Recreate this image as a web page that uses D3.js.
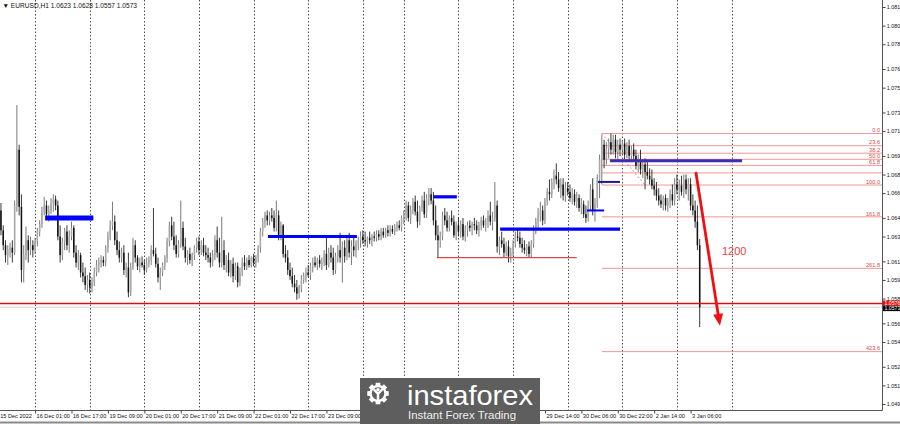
<!DOCTYPE html>
<html><head><meta charset="utf-8">
<script src="https://cdn.jsdelivr.net/npm/d3@7"></script>
<style>
body{margin:0;background:#fff;overflow:hidden}
svg{display:block}
text{font-family:"Liberation Sans",Arial,sans-serif}
</style></head>
<body><svg id="c" width="900" height="424"></svg>
<script>
// ---------------- DATA ----------------
const symbol = "EURUSD,H1";
const headerOHLC = [1.0623, 1.0628, 1.0557, 1.0573];
// H1 candles [open, high, low, close], in pips above 1.0000 (623 = 1.0623)
const candles = [
[651,657,631,635],[635,639,619,623],[623,627,609,615],[615,623,607,619],[619,625,613,621],
[621,627,609,617],[617,659,615,655],[655,736,650,700],[700,704,647,654],[654,664,593,603],
[603,623,593,615],[615,638,611,627],[627,631,609,619],[619,630,615,623],[623,627,613,619],
[619,629,616,626],[626,637,622,634],[634,643,630,640],[640,654,637,650],[650,662,647,655],
[655,659,645,648],[648,655,642,651],[651,661,648,657],[657,664,650,660],[660,663,651,655],
[655,659,627,630],[630,639,609,615],[615,629,611,626],[626,637,619,634],[634,639,619,623],
[623,635,617,630],[630,642,627,637],[637,639,613,617],[617,623,605,609],[609,619,603,615],
[615,617,597,601],[601,609,593,598],[598,605,587,591],[591,599,585,595],[595,601,584,589],
[589,597,585,593],[593,605,590,601],[601,611,598,607],[607,613,601,609],[609,615,605,611],
[611,614,606,609],[609,623,606,621],[621,634,617,630],[630,643,627,639],[639,658,635,642],
[642,647,623,627],[627,634,615,619],[619,626,609,613],[613,621,609,617],[617,623,599,603],
[603,609,597,605],[605,617,581,585],[585,609,582,606],[606,629,603,623],[623,627,609,613],
[613,615,603,606],[606,613,601,609],[609,614,605,607],[607,611,599,603],[603,613,601,609],
[609,614,605,611],[611,623,607,619],[619,653,614,616],[616,621,605,608],[608,613,593,597],
[597,605,587,601],[601,609,598,607],[607,615,603,613],[613,629,609,626],[626,642,622,639],
[639,646,627,630],[630,642,619,623],[623,631,613,616],[616,627,613,624],[624,659,621,637],
[637,642,619,622],[622,629,609,613],[613,619,607,616],[616,621,608,611],[611,617,606,615],
[615,623,611,621],[621,629,617,626],[626,630,615,619],[619,627,615,623],[623,629,614,617],
[617,623,611,615],[615,621,609,613],[613,617,605,609],[609,619,606,615],[615,631,611,627],
[627,638,613,617],[617,629,605,609],[609,646,605,619],[619,627,603,607],[607,615,601,611],
[611,617,598,601],[601,611,597,608],[608,613,593,598],[598,609,595,606],[606,609,589,593],
[593,605,590,601],[601,613,598,609],[609,615,603,606],[606,613,603,611],[611,615,605,607],
[607,614,605,613],[613,616,606,609],[609,615,605,613],[613,623,609,621],[621,637,617,634],
[634,645,630,642],[642,650,637,647],[647,651,639,643],[643,650,639,647],[647,653,642,645],
[645,651,634,637],[637,659,634,647],[647,651,627,630],[630,642,627,639],[639,640,613,616],
[616,623,609,613],[613,619,599,603],[603,609,595,598],[598,605,589,592],[592,599,585,589],
[589,595,579,584],[584,591,580,589],[589,599,585,595],[595,601,592,598],[598,605,593,601],
[601,607,597,599],[599,609,595,606],[606,613,601,609],[609,614,605,607],[607,613,603,611],
[611,615,605,608],[608,613,603,609],[609,619,606,616],[616,630,603,607],[607,621,605,617],
[617,623,609,613],[613,621,599,603],[603,617,600,614],[614,623,609,619],[619,633,609,613],
[613,626,593,621],[621,627,609,614],[614,631,611,627],[627,633,613,617],[617,627,607,622],
[622,629,614,619],[619,627,613,624],[624,630,619,627],[627,634,621,630],[630,635,624,627],
[627,634,622,626],[626,630,621,629],[629,634,624,627],[627,632,622,630],[630,634,626,629],
[629,635,626,632],[632,635,627,630],[630,637,627,634],[634,637,629,631],[631,637,629,635],
[635,639,630,633],[633,639,630,636],[636,639,632,634],[634,640,631,638],[638,642,634,639],
[639,643,635,637],[637,647,634,645],[645,651,640,648],[648,659,643,655],[655,658,642,645],
[645,655,640,651],[651,661,648,658],[658,663,647,650],[650,659,637,642],[642,655,639,653],
[653,663,650,659],[659,666,645,648],[648,664,645,661],[661,669,655,664],[664,669,656,659],
[659,666,639,643],[643,655,627,631],[631,639,613,627],[627,634,621,630],[630,650,627,647],
[647,653,639,643],[643,650,634,637],[637,647,634,645],[645,651,639,642],[642,647,629,631],
[631,642,627,639],[639,645,630,634],[634,643,629,640],[640,645,627,630],[630,639,626,635],
[635,642,630,639],[639,643,634,637],[637,642,631,640],[640,645,635,639],[639,643,632,635],
[635,642,630,639],[639,646,635,643],[643,647,637,639],[639,645,634,642],[642,651,637,647],
[647,658,639,642],[642,650,635,645],[645,674,642,655],[655,659,617,622],[622,630,615,627],
[627,634,621,624],[624,629,613,617],[617,626,614,622],[622,627,609,614],[614,621,609,617],
[617,627,614,624],[624,634,621,630],[630,636,626,629],[629,634,621,624],[624,629,617,621],
[621,627,616,619],[619,624,614,622],[622,626,613,616],[616,627,613,624],[624,639,621,635],
[635,645,632,642],[642,653,637,647],[647,658,642,651],[651,655,639,643],[643,661,640,658],
[658,669,655,666],[666,676,659,664],[664,677,661,674],[674,684,668,679],[679,689,672,676],
[676,682,666,669],[669,677,661,672],[672,677,659,663],[663,674,658,669],[669,674,663,666],
[666,672,658,661],[661,669,656,664],[664,668,655,658],[658,666,653,661],[661,664,650,653],
[653,661,648,656],[656,659,645,648],[648,655,641,645],[645,659,642,655],[655,672,651,668],
[668,677,647,651],[651,661,642,656],[656,680,653,676],[676,696,661,692],[692,712,672,704],
[704,708,685,692],[692,706,688,701],[701,709,693,706],[706,713,696,700],[700,712,696,708],
[708,712,693,698],[698,708,692,704],[704,709,695,700],[700,708,696,705],[705,709,692,696],
[696,706,693,703],[703,708,692,695],[695,703,690,700],[700,705,692,695],[695,700,684,687],
[687,696,682,692],[692,700,680,684],[684,692,677,688],[688,693,668,682],[682,690,676,679],
[679,685,672,676],[676,684,668,671],[671,677,663,668],[668,674,659,663],[663,669,655,659],
[659,664,653,656],[656,663,651,661],[661,664,651,655],[655,661,650,658],[658,668,653,664],
[664,672,655,659],[659,677,655,672],[672,680,664,668],[668,676,659,671],[671,679,663,666],
[666,680,661,676],[676,680,664,668],[668,677,659,672],[672,677,651,655],[655,664,647,651],
[651,659,637,642],[642,655,619,623],[623,628,557,573]
];
const priceTicks = [1.0815,1.0800,1.0785,1.0765,1.0750,1.0730,1.0715,1.0695,1.0680,1.0665,
                    1.0645,1.0630,1.0610,1.0595,1.0580,1.0560,1.0545,1.0525,1.0510,1.0495];
const timeTickBars   = [-1,15,31,47,63,79,95,111,127,143,239,255,271,287,303];
const timeTickLabels = ["15 Dec 2022","16 Dec 01:00","16 Dec 17:00","19 Dec 09:00","20 Dec 01:00",
  "20 Dec 17:00","21 Dec 09:00","22 Dec 01:00","22 Dec 17:00","23 Dec 09:00",
  "29 Dec 14:00","30 Dec 06:00","30 Dec 22:00","2 Jan 14:00","3 Jan 06:00"];
const dayGridBars = [15,39,63,87,111,135,159,177,201,225,249,273,297,321];
// Fibonacci object
const fibLevels = [0,23.6,38.2,50,61.8,76.4,100,161.8,261.8,423.6];
const fibLabels = ["0.0","23.6","38.2","50.0","61.8","","100.0","161.8","261.8","423.6"];
const fibAnchorBars = [264,283];
const fibAnchorPrices = [1.0713,1.06715];
// horizontal line objects: start bar, end bar, price, kind
const segBlue = [
  {b0:19.4, b1:40.6, p:1.0645, kind:"heavy"},
  {b0:117.3,b1:156.4,p:1.0630, kind:"mid"},
  {b0:190,  b1:200.3,p:1.0662, kind:"mid"},
  {b0:219.3,b1:272,  p:1.0636, kind:"mid"},
  {b0:257.4,b1:265,  p:1.0651, kind:"thin"},
  {b0:267.6,b1:325.6,p:1.0691, kind:"navy"},
  {b0:262.3,b1:272,  p:1.0674, kind:"navyThin"}
];
const segRed = [{b0:191.5, b1:253, p:1.0613}];
const redLevelPrice = 1.0576;
const bidPrice = 1.0573;
const arrowBars = [305.4, 315.9];
const arrowPrices = [1.0681, 1.0558];
const targetText = {bar:316.8, p:1.0618, label:"1200"};

// ---------------- CHART ----------------
const svg = d3.select("#c");
const plotR = 882, plotB = 410;
const x = d3.scaleLinear().domain([-0.42, 387.1]).range([0, plotR]);
const y = d3.scaleLinear().domain([1.0815, 1.0495]).range([7, 404]);
const P = v => 1 + v/10000;

svg.append("rect").attr("width",900).attr("height",424).attr("fill","#fff");
svg.append("defs").append("clipPath").attr("id","plot")
   .append("rect").attr("x",0).attr("y",0).attr("width",plotR).attr("height",plotB);
const g = svg.append("g").attr("clip-path","url(#plot)");

// vertical dotted grid
g.selectAll("line.vg").data(dayGridBars).join("line")
  .attr("x1",d=>Math.round(x(d))+0.5).attr("x2",d=>Math.round(x(d))+0.5)
  .attr("y1",0).attr("y2",plotB)
  .attr("stroke","#222").attr("stroke-width",0.8).attr("stroke-dasharray","1.5,2");

// fibonacci levels
const fibP = l => fibAnchorPrices[0] - (fibAnchorPrices[0]-fibAnchorPrices[1])*l/100;
g.selectAll("line.fib").data(fibLevels).join("line")
  .attr("x1",x(fibAnchorBars[0])).attr("x2",plotR)
  .attr("y1",d=>y(fibP(d))).attr("y2",d=>y(fibP(d)))
  .attr("stroke","#ee8a8a").attr("stroke-width",0.9);
g.append("line")
  .attr("x1",x(fibAnchorBars[0])).attr("y1",y(fibAnchorPrices[0]))
  .attr("x2",x(fibAnchorBars[1])).attr("y2",y(fibAnchorPrices[1]))
  .attr("stroke","#e07070").attr("stroke-width",0.8).attr("stroke-dasharray","2,2");
svg.selectAll("text.fib").data(fibLevels).join("text")
  .attr("x",880).attr("y",(d)=>y(fibP(d))-1.2)
  .attr("text-anchor","end").attr("font-size",5.6).attr("fill","#e04848")
  .text((d,i)=>fibLabels[i]);

// bid line (gray)
g.append("line").attr("x1",0).attr("x2",plotR).attr("y1",y(bidPrice)).attr("y2",y(bidPrice))
  .attr("stroke","#c8c8c8").attr("stroke-width",0.8);

// candles
const cw = 1.5;
const cg = g.append("g");
cg.selectAll("line.w").data(candles).join("line")
  .attr("x1",(d,i)=>x(i)).attr("x2",(d,i)=>x(i))
  .attr("y1",d=>y(P(d[1]))).attr("y2",d=>y(P(d[2])))
  .attr("stroke",d=>d[3]>=d[0]?"#6a6a6a":"#222").attr("stroke-width",0.9);
cg.selectAll("rect.b").data(candles).join("rect")
  .attr("x",(d,i)=>x(i)-cw/2).attr("width",cw)
  .attr("y",d=>y(P(Math.max(d[0],d[3]))))
  .attr("height",d=>Math.max(0.8, y(P(Math.min(d[0],d[3])))-y(P(Math.max(d[0],d[3])))))
  .attr("fill",d=>d[3]>=d[0]?"#a8a8a8":"#111");

// red horizontal segment
g.selectAll("line.rs").data(segRed).join("line")
  .attr("x1",d=>x(d.b0)).attr("x2",d=>x(d.b1)).attr("y1",d=>y(d.p)).attr("y2",d=>y(d.p))
  .attr("stroke","#d84a4a").attr("stroke-width",1.3);
// red level across chart
g.append("line").attr("x1",0).attr("x2",plotR).attr("y1",y(redLevelPrice)).attr("y2",y(redLevelPrice))
  .attr("stroke","#d81010").attr("stroke-width",1.3);

// blue segments
const kindStyle = {heavy:["#0000ff",5],mid:["#0000ff",3.2],thin:["#0000ff",2],
                   navy:["#3a2fb4",3],navyThin:["#1c1c96",2]};
g.selectAll("line.bs").data(segBlue).join("line")
  .attr("x1",d=>x(d.b0)).attr("x2",d=>x(d.b1)).attr("y1",d=>y(d.p)).attr("y2",d=>y(d.p))
  .attr("stroke",d=>kindStyle[d.kind][0]).attr("stroke-width",d=>kindStyle[d.kind][1]);

// red arrow
{
  const x0=x(arrowBars[0]), y0=y(arrowPrices[0]), x1=x(arrowBars[1]), y1=y(arrowPrices[1]);
  const dx=x1-x0, dy=y1-y0, L=Math.hypot(dx,dy), ux=dx/L, uy=dy/L;
  const hl=12, hw=5;
  const bx=x1-ux*hl, by=y1-uy*hl;
  g.append("line").attr("x1",x0).attr("y1",y0).attr("x2",bx).attr("y2",by)
    .attr("stroke","#f01010").attr("stroke-width",2.8).attr("stroke-linecap","round");
  g.append("path").attr("d",`M${x1},${y1}L${bx-uy*hw},${by+ux*hw}L${bx+uy*hw},${by-ux*hw}Z`)
    .attr("fill","#f01010");
}
g.append("text").attr("x",x(targetText.bar)).attr("y",y(targetText.p)+4)
  .attr("font-size",11).attr("fill","#e84040").text(targetText.label);

// axes frame
svg.append("line").attr("x1",plotR+0.5).attr("x2",plotR+0.5).attr("y1",0).attr("y2",plotB+0.5)
  .attr("stroke","#555").attr("stroke-width",1);
svg.append("line").attr("x1",0).attr("x2",plotR+0.5).attr("y1",plotB+0.5).attr("y2",plotB+0.5)
  .attr("stroke","#555").attr("stroke-width",1);
svg.append("line").attr("x1",0).attr("x2",900).attr("y1",422.5).attr("y2",422.5)
  .attr("stroke","#8a8a8a").attr("stroke-width",2);

// right price axis
const ya = svg.append("g").attr("transform",`translate(${plotR+0.5},0)`)
  .call(d3.axisRight(y).tickValues(priceTicks).tickFormat(d3.format(".4f")).tickSize(3).tickPadding(1.2));
ya.select(".domain").remove();
ya.selectAll("line").attr("stroke","#444");
ya.selectAll("text").attr("font-size",5.4).attr("fill","#111")
  .attr("font-family","Liberation Sans, Arial, sans-serif");

// bottom time axis
const xa = svg.append("g").attr("transform",`translate(0,${plotB+0.5})`)
  .call(d3.axisBottom(x).tickValues(timeTickBars).tickFormat((d,i)=>timeTickLabels[i]).tickSize(3).tickPadding(1));
xa.select(".domain").remove();
xa.selectAll("line").attr("stroke","#444");
xa.selectAll("text").attr("font-size",5.6).attr("fill","#111").attr("text-anchor","start")
  .attr("dx",1).attr("font-family","Liberation Sans, Arial, sans-serif");

// price labels
svg.append("rect").attr("x",plotR+1).attr("y",y(redLevelPrice)-3).attr("width",18).attr("height",5.4).attr("fill","#e01010");
svg.append("text").attr("x",plotR+2.5).attr("y",y(redLevelPrice)+1.6).attr("font-size",5.2).attr("fill","#fff")
  .text(d3.format(".4f")(redLevelPrice));
svg.append("rect").attr("x",plotR+1).attr("y",y(redLevelPrice)+2.4).attr("width",18).attr("height",5.2).attr("fill","#000");
svg.append("text").attr("x",plotR+2.5).attr("y",y(redLevelPrice)+6.8).attr("font-size",5.2).attr("fill","#fff")
  .text(d3.format(".4f")(bidPrice));

// header
svg.append("text").attr("x",2.5).attr("y",8.2).attr("font-size",6.6).attr("fill","#111")
  .text("▼ " + symbol + "  " + headerOHLC.map(d3.format(".4f")).join(" "));

// watermark
{
  const wm = svg.append("g");
  wm.append("rect").attr("x",360).attr("y",378).attr("width",180).attr("height",46).attr("fill","#5e5e5e");
  const cx=378, cy=393.5, ro=11, ri=8.6, n=8;
  let pts=[];
  for(let k=0;k<n;k++){
    const a=k*2*Math.PI/n;
    const s=Math.PI/n*0.55;
    pts.push([a-s*1.3,ri],[a-s,ro],[a+s,ro],[a+s*1.3,ri],[a+Math.PI/n,ri]);
  }
  const gear = d3.lineRadial().angle(d=>d[0]).radius(d=>d[1]).curve(d3.curveLinearClosed)(pts);
  wm.append("path").attr("d",gear).attr("transform",`translate(${cx},${cy})`).attr("fill","#fff");
  wm.append("circle").attr("cx",cx).attr("cy",cy).attr("r",6.2).attr("fill","#5e5e5e");
  wm.append("path").attr("d",`M${cx-4.5},${cy-4.5}L${cx},${cy+0.5}L${cx+4.5},${cy-4.5}M${cx},${cy+0.5}L${cx},${cy+7}`)
    .attr("stroke","#fff").attr("stroke-width",2.4).attr("fill","none");
  wm.append("circle").attr("cx",cx).attr("cy",cy-3.8).attr("r",1.8).attr("fill","#fff");
  wm.append("text").attr("x",407).attr("y",405).attr("font-size",28).attr("font-weight",300)
    .attr("font-family","Lato, 'Open Sans', sans-serif").attr("fill","#fff")
    .attr("textLength",126).attr("lengthAdjust","spacingAndGlyphs").text("instaforex");
  wm.append("text").attr("x",408).attr("y",419).attr("font-size",11)
    .attr("font-family","'Open Sans', Lato, sans-serif").attr("fill","#eee")
    .attr("textLength",108).attr("lengthAdjust","spacingAndGlyphs").text("Instant Forex Trading");
}
</script></body></html>
